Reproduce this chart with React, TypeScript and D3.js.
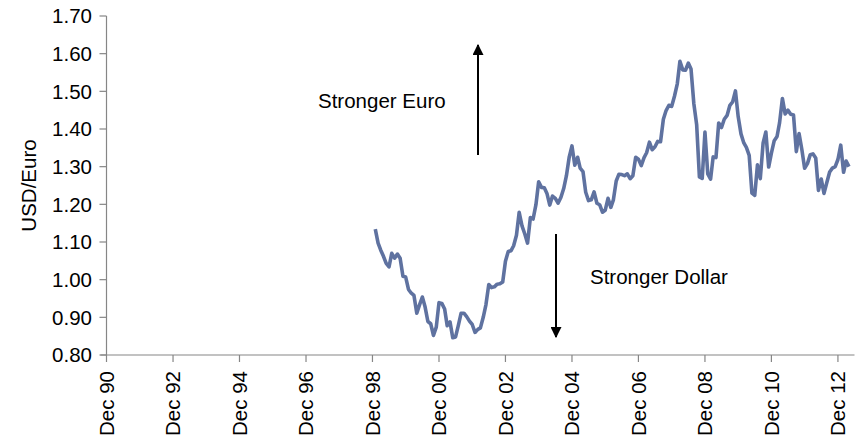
import { useEffect, useRef } from "react";
import * as d3 from "d3";

// month-end USD per Euro, starting Jan 1999
const startYear = 1999;
const usdEuro = [
  1.134, 1.097, 1.079, 1.062, 1.043, 1.034, 1.07, 1.057, 1.068, 1.057, 1.009, 1.007,
  0.974, 0.964, 0.958, 0.911, 0.933, 0.954, 0.928, 0.889, 0.883, 0.852, 0.874, 0.939,
  0.937, 0.922, 0.878, 0.888, 0.846, 0.848, 0.878, 0.911, 0.911, 0.902, 0.89, 0.881,
  0.86, 0.868, 0.872, 0.9, 0.934, 0.987, 0.979, 0.981, 0.988, 0.989, 0.994, 1.049,
  1.075, 1.077, 1.09, 1.118, 1.179, 1.143, 1.122, 1.097, 1.165, 1.161, 1.199, 1.26,
  1.245, 1.244, 1.229, 1.198, 1.222, 1.216, 1.203, 1.218, 1.242, 1.276, 1.326, 1.355,
  1.304, 1.325, 1.296, 1.287, 1.232, 1.21, 1.212, 1.233, 1.203, 1.199, 1.179, 1.184,
  1.216, 1.192, 1.212, 1.262, 1.28, 1.279, 1.276, 1.281, 1.268, 1.276, 1.325, 1.32,
  1.303, 1.324, 1.337, 1.365, 1.345, 1.353, 1.367, 1.366, 1.426, 1.449, 1.463, 1.46,
  1.487, 1.52, 1.58, 1.557, 1.556, 1.575, 1.559, 1.467, 1.411, 1.273, 1.269, 1.392,
  1.281, 1.267, 1.326, 1.324, 1.416, 1.404, 1.426, 1.436, 1.463, 1.472, 1.501, 1.433,
  1.387, 1.363, 1.351, 1.33, 1.23, 1.224, 1.305, 1.268, 1.363, 1.392, 1.299, 1.336,
  1.369, 1.38, 1.417, 1.481, 1.44, 1.45, 1.439, 1.437, 1.34, 1.388, 1.345, 1.296,
  1.308, 1.332, 1.334, 1.323, 1.237, 1.267, 1.229, 1.258, 1.286, 1.296, 1.3, 1.319,
  1.357, 1.285, 1.315, 1.3,
];

const tickYears = [1990, 1992, 1994, 1996, 1998, 2000, 2002, 2004, 2006, 2008, 2010, 2012];
const yTicks = [0.8, 0.9, 1.0, 1.1, 1.2, 1.3, 1.4, 1.5, 1.6, 1.7];

const FONT = "Liberation Sans, Arial, sans-serif";
const FONT_SIZE = "20.5px";

const App = () => {
  const svgRef = useRef<SVGSVGElement>(null);

  useEffect(() => {
    if (!svgRef.current) return;
    d3.select(svgRef.current).selectAll("*").remove();

    const width = 859;
    const height = 440;
    const left = 106.5;
    const right = 854.5;
    const top = 16;
    const bottom = 355;

    const svg = d3.select(svgRef.current)
      .attr("width", width)
      .attr("height", height)
      .attr("viewBox", `0 0 ${width} ${height}`);

    const x = d3.scaleTime()
      .domain([new Date(1990, 11, 1), new Date(2013, 5, 1)])
      .range([left, right]);
    const y = d3.scaleLinear().domain([0.8, 1.7]).range([bottom, top]);

    const data = usdEuro.map((v, i) => ({ date: new Date(startYear, i, 1), value: v }));

    // Axes
    const axisColor = "#868686";
    svg.append("line")
      .attr("x1", left).attr("x2", left)
      .attr("y1", top).attr("y2", bottom)
      .attr("stroke", axisColor).attr("stroke-width", 1.2);
    svg.append("line")
      .attr("x1", left - 6).attr("x2", right)
      .attr("y1", bottom).attr("y2", bottom)
      .attr("stroke", axisColor).attr("stroke-width", 1.2);

    svg.selectAll(".ytick")
      .data(yTicks)
      .join("line")
      .attr("x1", left - 7).attr("x2", left)
      .attr("y1", d => y(d)).attr("y2", d => y(d))
      .attr("stroke", axisColor).attr("stroke-width", 1.2);

    svg.selectAll(".ylabel")
      .data(yTicks)
      .join("text")
      .attr("x", 92)
      .attr("y", d => y(d))
      .attr("dy", "0.36em")
      .attr("text-anchor", "end")
      .style("font-family", FONT)
      .style("font-size", FONT_SIZE)
      .style("fill", "#000")
      .text(d => d.toFixed(2));

    const tickDates = tickYears.map(yr => new Date(yr, 11, 1));
    svg.selectAll(".xtick")
      .data(tickDates)
      .join("line")
      .attr("x1", d => x(d)).attr("x2", d => x(d))
      .attr("y1", bottom).attr("y2", bottom + 7)
      .attr("stroke", axisColor).attr("stroke-width", 1.2);

    svg.selectAll(".xlabel")
      .data(tickDates)
      .join("text")
      .attr("transform", d => `translate(${x(d)},${371}) rotate(-90)`)
      .attr("dy", "0.36em")
      .attr("text-anchor", "end")
      .style("font-family", FONT)
      .style("font-size", FONT_SIZE)
      .style("fill", "#000")
      .text(d => `Dec ${String(d.getFullYear() % 100).padStart(2, "0")}`);

    svg.append("text")
      .attr("transform", `translate(29,${(top + bottom) / 2}) rotate(-90)`)
      .attr("dy", "0.36em")
      .attr("text-anchor", "middle")
      .style("font-family", FONT)
      .style("font-size", FONT_SIZE)
      .style("fill", "#000")
      .text("USD/Euro");

    // Series line
    const line = d3.line<{ date: Date; value: number }>()
      .x(d => x(d.date))
      .y(d => y(d.value));

    svg.append("path")
      .datum(data)
      .attr("d", line)
      .attr("fill", "none")
      .attr("stroke", "#5f72a0")
      .attr("stroke-width", 3.6)
      .attr("stroke-linejoin", "round");

    // Annotation arrows
    const defs = svg.append("defs");
    defs.append("marker")
      .attr("id", "arrowhead")
      .attr("viewBox", "0 0 10 10")
      .attr("refX", 9)
      .attr("refY", 5)
      .attr("markerWidth", 5.5)
      .attr("markerHeight", 5.5)
      .attr("markerUnits", "strokeWidth")
      .attr("orient", "auto")
      .append("path")
      .attr("d", "M0,0 L10,5 L0,10 Z")
      .attr("fill", "#000");

    svg.append("line")
      .attr("x1", 478).attr("x2", 478)
      .attr("y1", 155).attr("y2", 45)
      .attr("stroke", "#000").attr("stroke-width", 2)
      .attr("marker-end", "url(#arrowhead)");

    svg.append("line")
      .attr("x1", 556).attr("x2", 556)
      .attr("y1", 234).attr("y2", 337)
      .attr("stroke", "#000").attr("stroke-width", 2)
      .attr("marker-end", "url(#arrowhead)");

    svg.append("text")
      .attr("x", 318)
      .attr("y", 108)
      .style("font-family", FONT)
      .style("font-size", FONT_SIZE)
      .style("fill", "#000")
      .text("Stronger Euro");

    svg.append("text")
      .attr("x", 590)
      .attr("y", 284)
      .style("font-family", FONT)
      .style("font-size", FONT_SIZE)
      .style("fill", "#000")
      .text("Stronger Dollar");
  }, []);

  return (
    <div style={{ position: "absolute", left: 0, top: 0, background: "#fff" }}>
      <svg ref={svgRef}></svg>
    </div>
  );
};

export default App;
